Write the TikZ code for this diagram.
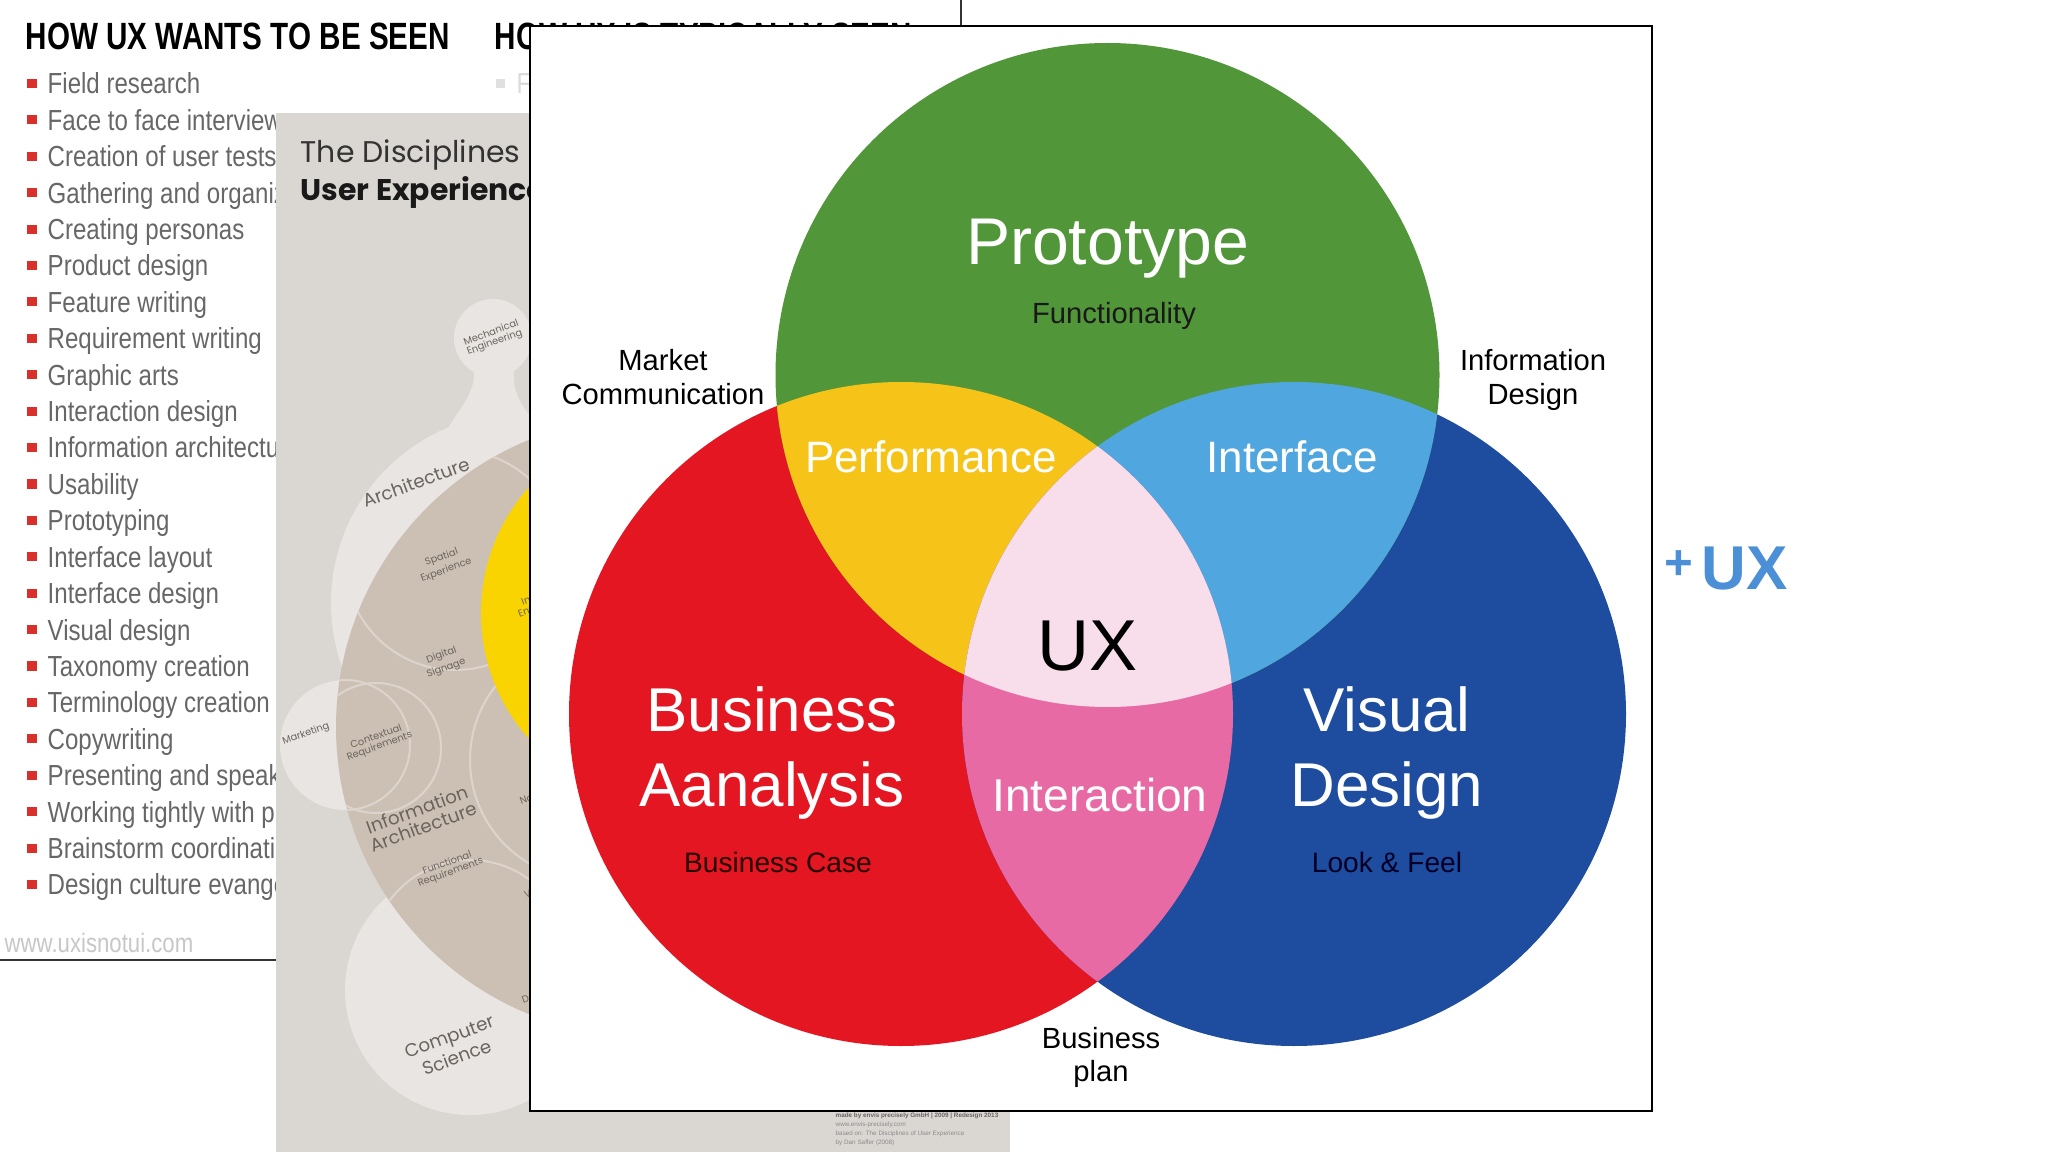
\documentclass[tikz,border=0pt]{standalone}
\usepackage{fontspec}
\setmainfont{Liberation Sans}
\newfontfamily\narrowfont[FakeStretch=0.83]{Liberation Sans}
\newfontfamily\headfont[FakeStretch=0.78]{Liberation Sans}
\newfontfamily\geofont{Poppins}
\usetikzlibrary{positioning}

\definecolor{vgreen}{HTML}{52963A}
\definecolor{vred}{HTML}{E41622}
\definecolor{vblue}{HTML}{1E4C9E}
\definecolor{vyellow}{HTML}{F6C418}
\definecolor{vsky}{HTML}{50A6DE}
\definecolor{vpink}{HTML}{E86AA5}
\definecolor{vblush}{HTML}{F7DEEA}
\definecolor{bulletred}{HTML}{D9302C}
\definecolor{listgray}{HTML}{676767}
\definecolor{panelgray}{HTML}{DAD6D2}
\definecolor{softgray}{HTML}{E8E5E2}
\definecolor{tan}{HTML}{CCC0B5}
\definecolor{seamcol}{HTML}{DDD5CD}
\definecolor{uxyellow}{HTML}{FAD400}
\definecolor{labelgray}{HTML}{6B645E}
\definecolor{chalkblue}{HTML}{4B8FD6}

\newcommand{\fsz}[1]{\fontsize{#1}{#1}\selectfont}

\begin{document}
\begin{tikzpicture}[x=0.01cm,y=-0.01cm,inner sep=0pt,
  item/.style={anchor=base west,text=listgray,font=\narrowfont\fsz{8.25}},
  bullet/.style={fill=bulletred,minimum size=0.09cm},
  head/.style={anchor=base west,font=\headfont\bfseries\fsz{10.8}},
  tiny/.style={text=labelgray,font=\geofont\fsz{2.8},align=center},
  midlbl/.style={text=labelgray,font=\geofont\fsz{5.2},align=center},
  big/.style={anchor=base,text=white},
  small/.style={anchor=base,font=\fsz{8.3}}]

\useasboundingbox (0,0) rectangle (2048,1152);
\fill[white] (0,0) rectangle (2048,1152);

% slide behind: how ux wants to be seen
\node[head] (head1) at (25,50) {HOW UX WANTS TO BE SEEN};
\node[head] (head2) at (494,50) {HOW UX IS TYPICALLY SEEN};

\foreach \t [count=\i from 0] in {Field research,Face to face interviews,
    Creation of user tests,Gathering and organizing data,Creating personas,
    Product design,Feature writing,Requirement writing,Graphic arts,
    Interaction design,Information architecture,Usability,Prototyping,
    Interface layout,Interface design,Visual design,Taxonomy creation,
    Terminology creation,Copywriting,Presenting and speaking,
    Working tightly with programmers,Brainstorm coordination,
    Design culture evangelism}
{
  \node[bullet] (dot\i) at (32,{83.6+36.4*\i}) {};
  \node[item] (item\i) at (47,{94+36.4*\i}) {\t};
}

\node[bullet,fill=black!12] (dotb) at (500,83.6) {};
\node[item,text=black!14] (itemb) at (516,94) {Field research};

\node[item,text=black!22,font=\narrowfont\fsz{7.6}] (url) at (4,952) {www.uxisnotui.com};

\draw[black!80,line width=0.015cm] (0,960) -- (961,960) -- (961,0);

% slide behind: disciplines of user experience
\fill[panelgray] (276,113) rectangle (1010,1152);
\node[anchor=base west,text=black!80,font=\geofont\fsz{8.5}] (disc1) at (300,163) {The Disciplines of};
\node[anchor=base west,text=black!90,font=\geofont\bfseries\fsz{8.5}] (disc2) at (300,201) {User Experience};

\fill[softgray] (521,603) circle[radius=190];
\fill[softgray] (493,338) circle[radius=39];
\fill[softgray] (474,368) .. controls (476,392) and (462,405) .. (448,428)
  -- (540,428) .. controls (520,405) and (512,392) .. (514,368) -- cycle;
\fill[softgray] (345,745) circle[radius=65];
\fill[softgray] (470,990) circle[radius=125];
\fill[tan] (646,727) circle[radius=310];
\begin{scope}
  \clip (646,727) circle[radius=310];
  \draw[seamcol,line width=0.02cm] (376,748) circle[radius=65];
  \draw[seamcol,line width=0.02cm] (345,745) circle[radius=65];
  \draw[seamcol,line width=0.02cm] (455,560) circle[radius=110];
  \draw[seamcol,line width=0.02cm] (590,760) circle[radius=120];
  \draw[seamcol,line width=0.02cm] (470,960) circle[radius=100];
\end{scope}
\fill[uxyellow] (670,613) circle[radius=189];

\node[tiny,rotate=20] (mech) at (493,338) {Mechanical\\Engineering};
\node[midlbl,rotate=20] (arch) at (416,482) {Architecture};
\node[tiny,rotate=20] (spat) at (444,564) {Spatial\\Experience};
\node[tiny,rotate=20] (sign) at (444,662) {Digital\\Signage};
\node[tiny,rotate=20] (envi) at (548,598) {Interactive\\Environments};
\node[tiny,rotate=20] (mark) at (306,734) {Marketing};
\node[tiny,rotate=20] (ctxr) at (378,742) {Contextual\\Requirements};
\node[midlbl,rotate=20] (info) at (420,818) {Information\\Architecture};
\node[tiny,rotate=20] (navi) at (548,800) {Navigation\\Design};
\node[tiny,rotate=20] (func) at (449,868) {Functional\\Requirements};
\node[tiny,rotate=20] (data) at (552,880) {Data\\Visualization};
\node[tiny,rotate=20] (soft) at (552,985) {Software\\Development};
\node[midlbl,rotate=20] (comp) at (453,1047) {Computer\\Science};

\node[anchor=base west,text=black!60,font=\bfseries\fsz{1.8}] (foot1) at (835,1117) {made by envis precisely GmbH | 2009 | Redesign 2013};
\node[anchor=base west,text=black!45,font=\fsz{1.8}] (foot2) at (835,1126) {www.envis-precisely.com};
\node[anchor=base west,text=black!45,font=\fsz{1.8}] (foot3) at (835,1135) {based on: The Disciplines of User Experience};
\node[anchor=base west,text=black!45,font=\fsz{1.8}] (foot4) at (835,1144) {by Dan Saffer (2008)};

% front slide: venn
\fill[white] (530,26) rectangle (1652,1111);
\draw[black,line width=0.02cm] (530,26) rectangle (1652,1111);

\coordinate (G) at (1107.5,375);
\coordinate (R) at (901,714);
\coordinate (B) at (1294,714);

\fill[vred] (R) circle[radius=332];
\fill[vblue] (B) circle[radius=332];
\fill[vgreen] (G) circle[radius=332];
\begin{scope}
  \clip (G) circle[radius=332];
  \fill[vyellow] (R) circle[radius=332];
  \fill[vsky] (B) circle[radius=332];
\end{scope}
\begin{scope}
  \clip (R) circle[radius=332];
  \fill[vpink] (B) circle[radius=332];
  \clip (B) circle[radius=332];
  \fill[vblush] (G) circle[radius=332];
\end{scope}

\node[big,font=\fsz{18.8}] (proto) at (1107.5,265) {Prototype};
\node[small,text=black!90] (func1) at (1114,324) {Functionality};
\node[small] (mkt1) at (663,371) {Market};
\node[small] (mkt2) at (663,405) {Communication};
\node[small] (inf1) at (1533,371) {Information};
\node[small] (inf2) at (1533,405) {Design};
\node[big,font=\fsz{12.5}] (perf) at (931,473) {Performance};
\node[big,font=\fsz{12.5}] (intf) at (1292,473) {Interface};
\node[anchor=base,font=\fsz{20.5}] (ux) at (1088,670) {UX};
\node[big,font=\fsz{17.6}] (bus1) at (772,731) {Business};
\node[big,font=\fsz{17.6}] (bus2) at (772,806) {Aanalysis};
\node[big,font=\fsz{17.6}] (vis1) at (1387,731) {Visual};
\node[big,font=\fsz{17.6}] (vis2) at (1387,806) {Design};
\node[big,font=\fsz{13.1}] (inter) at (1100,811) {Interaction};
\node[small,text=black!85!red,font=\fsz{8}] (case) at (778,872) {Business Case};
\node[small,text=black!85!blue,font=\fsz{8}] (look) at (1387,872) {Look \& Feel};
\node[small] (plan1) at (1101,1048) {Business};
\node[small] (plan2) at (1101,1081) {plan};

% scribble at the right
\node[anchor=base west,text=chalkblue,font=\bfseries\fsz{14}] (plus) at (1664,580) {+};
\node[anchor=base west,text=chalkblue,font=\bfseries\fsz{17.6}] (uxs) at (1701,590) {UX};

\end{tikzpicture}
\end{document}
